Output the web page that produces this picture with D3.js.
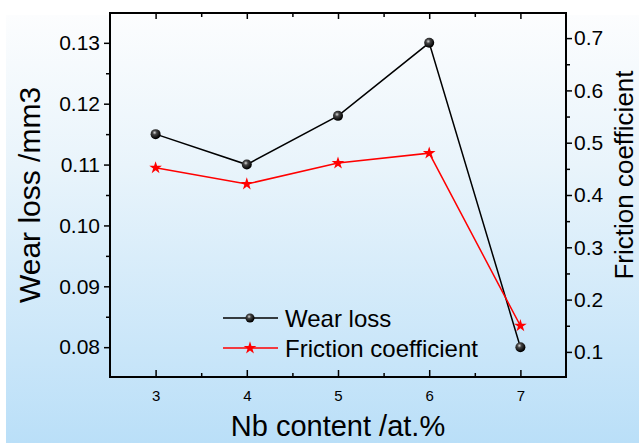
<!DOCTYPE html>
<html>
<head>
<meta charset="utf-8">
<script src="https://cdn.jsdelivr.net/npm/d3@7"></script>
<style>
  body { margin: 0; background: #fff; }
  svg { display: block; font-family: "Liberation Sans", Arial, sans-serif; }
</style>
</head>
<body>
<div id="chart"></div>
<script>
// data
var nbContent = [3, 4, 5, 6, 7]
var wearLoss = [0.115, 0.110, 0.118, 0.130, 0.080]
var friction = [0.452, 0.421, 0.461, 0.480, 0.150]

var xTicks = [3, 4, 5, 6, 7]
var xMinor = [3.5, 4.5, 5.5, 6.5]
var leftTicks = [0.08, 0.09, 0.10, 0.11, 0.12, 0.13]
var leftMinor = [0.085, 0.095, 0.105, 0.115, 0.125]
var rightTicks = [0.1, 0.2, 0.3, 0.4, 0.5, 0.6, 0.7]
var rightMinor = [0.15, 0.25, 0.35, 0.45, 0.55, 0.65]

var W = 639, H = 443
var margin = {top: 13, right: 73, bottom: 66, left: 110}
var width = W - margin.left - margin.right,
    height = H - margin.top - margin.bottom

var svg = d3.select("#chart").append("svg")
  .attr("width", W).attr("height", H)

// background gradient
var defs = svg.append("defs")
var bg = defs.append("linearGradient").attr("id", "bg")
  .attr("x1", 0).attr("y1", 0).attr("x2", 0).attr("y2", 1)
bg.append("stop").attr("offset", "0%").attr("stop-color", "#fcfdfe")
bg.append("stop").attr("offset", "35%").attr("stop-color", "#e9f4fb")
bg.append("stop").attr("offset", "100%").attr("stop-color", "#badff8")

var ball = defs.append("radialGradient").attr("id", "ball")
  .attr("cx", "40%").attr("cy", "35%").attr("r", "60%")
ball.append("stop").attr("offset", "0%").attr("stop-color", "#d8d8d8")
ball.append("stop").attr("offset", "35%").attr("stop-color", "#444")
ball.append("stop").attr("offset", "100%").attr("stop-color", "#000")

svg.append("rect").attr("x", 6).attr("y", 15)
  .attr("width", W - 6).attr("height", H - 15)
  .attr("fill", "url(#bg)")

var g = svg.append("g")
  .attr("transform", "translate(" + margin.left + "," + margin.top + ")")

var x = d3.scaleLinear().domain([2.5, 7.5]).range([0, width])
var yL = d3.scaleLinear().domain([0.0751, 0.1349]).range([height, 0])
var yR = d3.scaleLinear().domain([0.052, 0.748]).range([height, 0])

function styleAxis(sel, fs) {
  sel.select(".domain").remove()
  sel.selectAll("line").attr("stroke", "#000").attr("stroke-width", 1.5)
  sel.selectAll("text").attr("fill", "#000").style("font-size", fs + "px")
    .style("font-family", "'Liberation Sans', Arial, sans-serif")
}

// bottom axis, ticks inside
g.append("g").attr("transform", "translate(0," + height + ")")
  .call(d3.axisBottom(x).tickValues(xTicks).tickSize(-7).tickPadding(13).tickFormat(d3.format("d")))
  .call(styleAxis, 15)
g.append("g").attr("transform", "translate(0," + height + ")")
  .call(d3.axisBottom(x).tickValues(xMinor).tickSize(-4).tickFormat(""))
  .call(styleAxis, 15)
// top axis, ticks inside
g.append("g")
  .call(d3.axisTop(x).tickValues(xTicks).tickSize(-6).tickFormat(""))
  .call(styleAxis, 14)
g.append("g")
  .call(d3.axisTop(x).tickValues(xMinor).tickSize(-4).tickFormat(""))
  .call(styleAxis, 14)

// left axis
g.append("g")
  .call(d3.axisLeft(yL).tickValues(leftTicks).tickSize(6).tickPadding(4).tickFormat(d3.format(".2f")))
  .call(styleAxis, 21)
g.append("g")
  .call(d3.axisLeft(yL).tickValues(leftMinor).tickSize(4).tickFormat(""))
  .call(styleAxis, 21)

// right axis
g.append("g").attr("transform", "translate(" + width + ",0)")
  .call(d3.axisRight(yR).tickValues(rightTicks).tickSize(6).tickPadding(2).tickFormat(d3.format(".1f")))
  .call(styleAxis, 21)
g.append("g").attr("transform", "translate(" + width + ",0)")
  .call(d3.axisRight(yR).tickValues(rightMinor).tickSize(4).tickFormat(""))
  .call(styleAxis, 21)

// frame
g.append("rect").attr("width", width).attr("height", height)
  .attr("fill", "none").attr("stroke", "#000").attr("stroke-width", 2)

// lines
var wearLine = d3.line().x(function(d, i) { return x(nbContent[i]) }).y(function(d) { return yL(d) })
var fricLine = d3.line().x(function(d, i) { return x(nbContent[i]) }).y(function(d) { return yR(d) })

g.append("path").attr("d", wearLine(wearLoss))
  .attr("fill", "none").attr("stroke", "#000").attr("stroke-width", 1.5)
g.append("path").attr("d", fricLine(friction))
  .attr("fill", "none").attr("stroke", "#ff0000").attr("stroke-width", 1.5)

var star = d3.symbol().type(d3.symbolStar).size(50)

g.selectAll(".ball").data(wearLoss).enter().append("circle")
  .attr("class", "ball")
  .attr("cx", function(d, i) { return x(nbContent[i]) })
  .attr("cy", function(d) { return yL(d) })
  .attr("r", 5).attr("fill", "url(#ball)")

g.selectAll(".star").data(friction).enter().append("path")
  .attr("class", "star")
  .attr("d", star)
  .attr("transform", function(d, i) { return "translate(" + x(nbContent[i]) + "," + yR(d) + ")" })
  .attr("fill", "#ff0000")

// legend
var legend = [
  {name: "Wear loss", color: "#000", mark: "ball"},
  {name: "Friction coefficient", color: "#ff0000", mark: "star"}
]
var lg = svg.append("g").attr("transform", "translate(223,318)")
legend.forEach(function(d, i) {
  var row = lg.append("g").attr("transform", "translate(0," + (i * 30) + ")")
  row.append("line").attr("x1", 0).attr("x2", 55)
    .attr("stroke", d.color).attr("stroke-width", 1.5)
  if (d.mark == "ball") {
    row.append("circle").attr("cx", 27).attr("r", 4.5).attr("fill", "url(#ball)")
  } else {
    row.append("path").attr("d", star).attr("transform", "translate(27,0)").attr("fill", d.color)
  }
  row.append("text").attr("x", 62).attr("y", 8.5)
    .style("font-size", "24px").attr("fill", "#000").text(d.name)
})

// axis titles
svg.append("text")
  .attr("x", margin.left + width / 2).attr("y", 436)
  .attr("text-anchor", "middle").style("font-size", "29px")
  .text("Nb content /at.%")

svg.append("text")
  .attr("transform", "translate(40," + (margin.top + height / 2) + ") rotate(-90)")
  .attr("text-anchor", "middle").style("font-size", "30px")
  .text("Wear loss /mm3")

svg.append("text")
  .attr("transform", "translate(633,175) rotate(-90)")
  .attr("text-anchor", "middle").style("font-size", "26px")
  .text("Friction coefficient")
</script>
</body>
</html>
